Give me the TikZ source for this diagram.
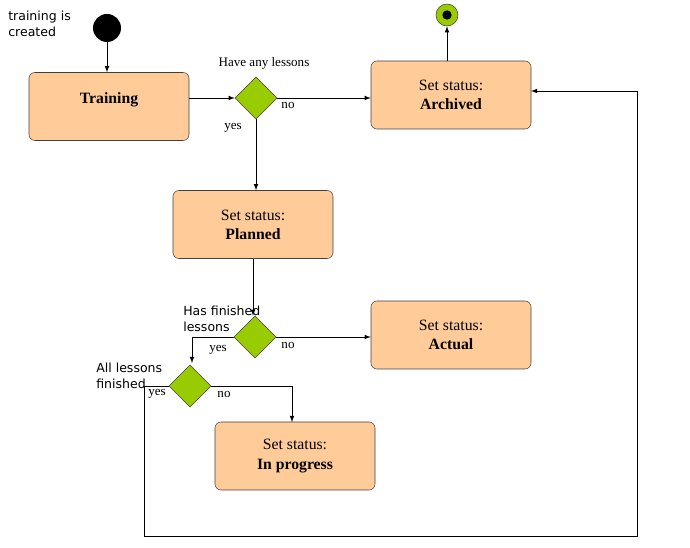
\documentclass[tikz,border=0pt]{standalone}
\usepackage{fontspec}
\setmainfont{Liberation Serif}
\newfontfamily\notefont{DejaVu Sans}
\usepackage{tikz}
\usetikzlibrary{shapes.geometric, arrows}
\definecolor{boxfill}{HTML}{FFCC99}
\definecolor{choicefill}{HTML}{99CC00}
\tikzstyle{state} = [rectangle, rounded corners=4.5pt, minimum width=120pt, minimum height=51pt, text centered, align=center, draw=black!75, fill=boxfill, font=\fontsize{11.8}{14.3}\selectfont]
\tikzstyle{choice} = [diamond, minimum width=31.5pt, minimum height=31.5pt, inner sep=0pt, draw=black!75, fill=choicefill]
\tikzstyle{note} = [align=left, inner sep=0pt, font=\notefont\fontsize{9.4}{11.6}\selectfont]
\tikzstyle{guard} = [inner sep=0pt, font=\fontsize{9.8}{11}\selectfont]
\tikzstyle{arrow} = [->,>=latex, black, line width=0.6pt]

\begin{document}
\begin{tikzpicture}[x=0.75pt, y=-0.75pt]
      \useasboundingbox (0,0) rectangle (690,548);
      % initial and final states
      \node [circle, fill=black, minimum size=21pt, inner sep=0pt] (init) at (107,28) {};
      \node [circle, draw=black!75, fill=choicefill, minimum size=16.5pt, inner sep=0pt] (final) at (447,15) {};
      \node [circle, fill=black, minimum size=7pt, inner sep=0pt] (finaldot) at (447,15) {};
      \node [note, anchor=north west] (created) at (8,11) {training is\\created};

      % states
      \node [state] (training) at (109,106.5) {\textbf{Training}\\[-6pt]\strut};
      \node [state] (archived) at (451,95) {Set status:\\\textbf{Archived}};
      \node [state] (planned) at (253,224.5) {Set status:\\\textbf{Planned}};
      \node [state] (actual) at (451,335) {Set status:\\\textbf{Actual}};
      \node [state] (inprogress) at (295,456) {Set status:\\\textbf{In progress}};

      % decisions
      \node [choice] (lessons) at (256,98) {};
      \node [choice] (finished) at (255,337) {};
      \node [choice] (allfinished) at (190,386) {};

      \node [guard] (lessonsq) at (264,63) {Have any lessons};
      \node [note, anchor=north west] (finishedq) at (183,306) {Has finished\\lessons};
      \node [note, anchor=north west] (allfinishedq) at (96,363) {All lessons\\finished};

      % guards
      \node [guard] (no1) at (288,105) {no};
      \node [guard] (yes1) at (233,128) {yes};
      \node [guard] (no2) at (288,345) {no};
      \node [guard] (yes2) at (218,350) {yes};
      \node [guard] (no3) at (224,394) {no};
      \node [guard] (yes3) at (157,394) {yes};

      \coordinate (c1) at (192,363);
      \coordinate (c2) at (292,422);
      \coordinate (c3) at (144,536);
      \coordinate (c4) at (637,536);
      \coordinate (c5) at (531,91);

      % transitions
      \draw [arrow] (init) -- (training.north -| init);
      \draw [arrow] (archived.north -| final) -- (final);
      \draw [arrow] (training.east |- lessons) -- (lessons.west);
      \draw [arrow] (lessons.east) -- (archived.west |- lessons.east);
      \draw [arrow] (lessons.south) -- (planned.north -| lessons.south);
      \draw [arrow] (planned.south) -- (finished.north -| planned.south);
      \draw [arrow] (finished.east) -- (actual.west |- finished.east);
      \draw [arrow] (finished.west) -| (c1);
      \draw [arrow] (allfinished.east) -| (c2);
      \draw [arrow] (allfinished.west) -| (c3) -- (c4) |- (c5);
\end{tikzpicture}
\end{document}
